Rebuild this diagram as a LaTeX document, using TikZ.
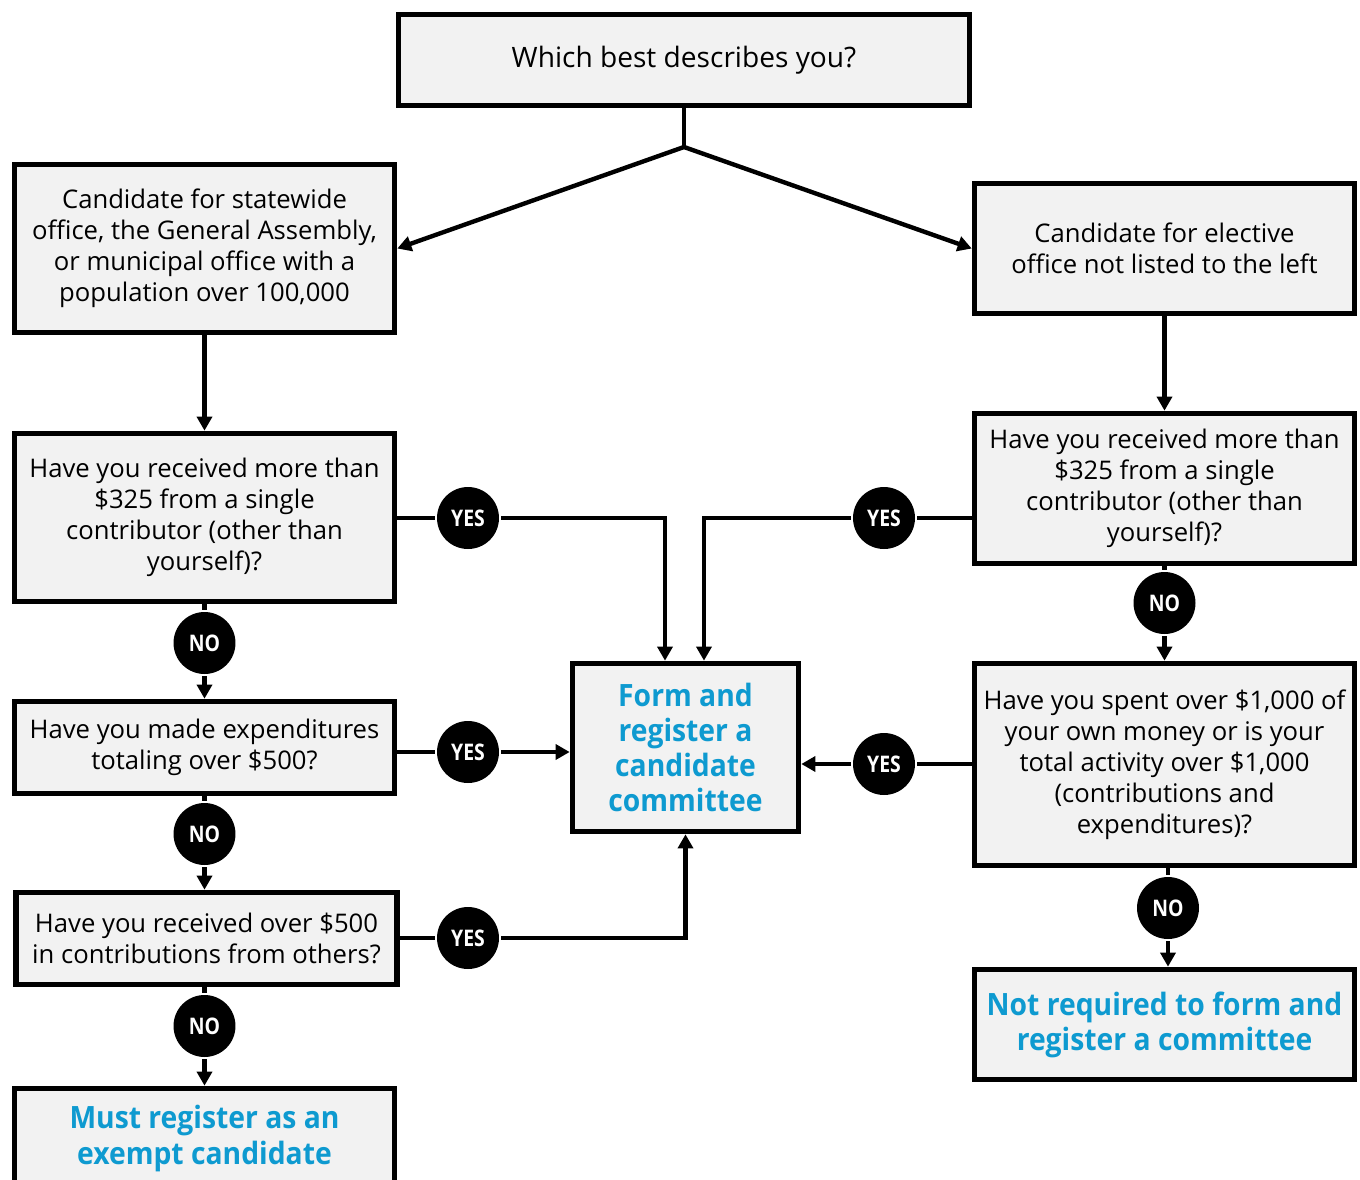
\documentclass[tikz,border=0pt]{standalone}
\usepackage{fontspec}
\setmainfont{Open Sans}
\newfontfamily\endfont{Open Sans}[FakeStretch=0.92]
\newfontfamily\badgefont{Open Sans}[FakeStretch=0.85]
\usepackage{tikz}
\usetikzlibrary{arrows.meta, positioning}
\definecolor{boxgray}{HTML}{F2F2F2}
\definecolor{outblue}{HTML}{0E9AD0}

\begin{document}
\begin{tikzpicture}[->,>={Triangle[length=8pt,width=8.5pt]},x=0.02cm,y=-0.02cm,
      line width=2.5pt,
      main node/.style={draw,line width=3.2pt,fill=boxgray,align=center,inner sep=0pt,
        font=\fontsize{14.6}{17.6}\selectfont},
      end node/.style={main node,text=outblue,font=\endfont\fontsize{17.5}{20}\selectfont\bfseries},
      answer node/.style={circle,fill=black,text=white,minimum size=1.24cm,inner sep=0pt,
        font=\badgefont\fontsize{13}{14}\selectfont\bfseries}]

      \useasboundingbox (0,0) rectangle (1360,1180);

      \node[main node,minimum width=11.42cm,minimum height=1.82cm,font=\fontsize{16}{19}\selectfont]
        (which) at (684,60) {Which best describes you?};
      \node[main node,minimum width=7.6cm,minimum height=3.36cm] (statewide) at (204.5,248.5)
        {Candidate for statewide\\office, the General Assembly,\\or municipal office with a\\population over 100,000};
      \node[main node,minimum width=7.6cm,minimum height=2.6cm] (elective) at (1164.5,248.5)
        {Candidate for elective\\office not listed to the left};
      \node[main node,minimum width=7.6cm,minimum height=3.36cm] (lq1) at (204.5,517.5)
        {Have you received more than\\\$325 from a single\\contributor (other than\\yourself)?};
      \node[main node,minimum width=7.6cm,minimum height=3.0cm] (rq1) at (1164.5,488.5)
        {Have you received more than\\\$325 from a single\\contributor (other than\\yourself)?};
      \node[main node,minimum width=7.6cm,minimum height=1.84cm] (lq2) at (204.5,747.5)
        {Have you made expenditures\\totaling over \$500?};
      \node[main node,minimum width=7.62cm,minimum height=1.84cm] (lq3) at (206.5,938.5)
        {Have you received over \$500\\in contributions from others?};
      \node[main node,minimum width=7.6cm,minimum height=4.04cm] (rq2) at (1164.5,764.5)
        {Have you spent over \$1,000 of\\your own money or is your\\total activity over \$1,000\\(contributions and\\expenditures)?};
      \node[end node,minimum width=4.52cm,minimum height=3.36cm] (form) at (685.5,747.5)
        {Form and\\register a\\candidate\\committee};
      \node[end node,minimum width=7.6cm,minimum height=2.0cm] (exempt) at (204.5,1138.5)
        {Must register as an\\exempt candidate};
      \node[end node,minimum width=7.6cm,minimum height=2.2cm] (notreq) at (1164.5,1024.5)
        {Not required to form and\\register a committee};

      % yes / no badges
      \foreach \n/\x/\y in {y1/468/518, y2/468/752, y3/468/938, y4/884/518, y5/884/764}
          \node[answer node] (\n) at (\x,\y) {YES};
      \foreach \n/\x/\y in {n1/204.5/643, n2/204.5/834, n3/204.5/1026, n4/1164.5/603, n5/1168/908}
          \node[answer node] (\n) at (\x,\y) {NO};

      \coordinate (split) at (684,147);
      \coordinate (fa) at ([xshift=-0.41cm]form.north);
      \coordinate (fb) at ([xshift=0.37cm]form.north);

      \draw[-] (which) -- (split);
      \draw (split) -- (statewide.east);
      \draw (split) -- (elective.west);
      \draw (statewide) -- (lq1);
      \draw (elective) -- (rq1);

      \draw (lq1) -- (n1) -- (lq2);
      \draw (lq2) -- (n2) -- (n2 |- lq3.north);
      \draw (lq3.south -| n3) -- (n3) -- (exempt);
      \draw (rq1) -- (n4) -- (rq2);
      \draw (rq2.south -| n5) -- (n5) -- (n5 |- notreq.north);

      \draw (lq1.east |- y1) -- (y1) -- (y1 -| fa) -- (fa);
      \draw (rq1.west |- y4) -- (y4) -- (y4 -| fb) -- (fb);
      \draw (lq2.east |- y2) -- (y2) -- (y2 -| form.west);
      \draw (lq3.east |- y3) -- (y3) -- (y3 -| form.south) -- (form.south);
      \draw (rq2.west |- y5) -- (y5) -- (y5 -| form.east);
\end{tikzpicture}
\end{document}
